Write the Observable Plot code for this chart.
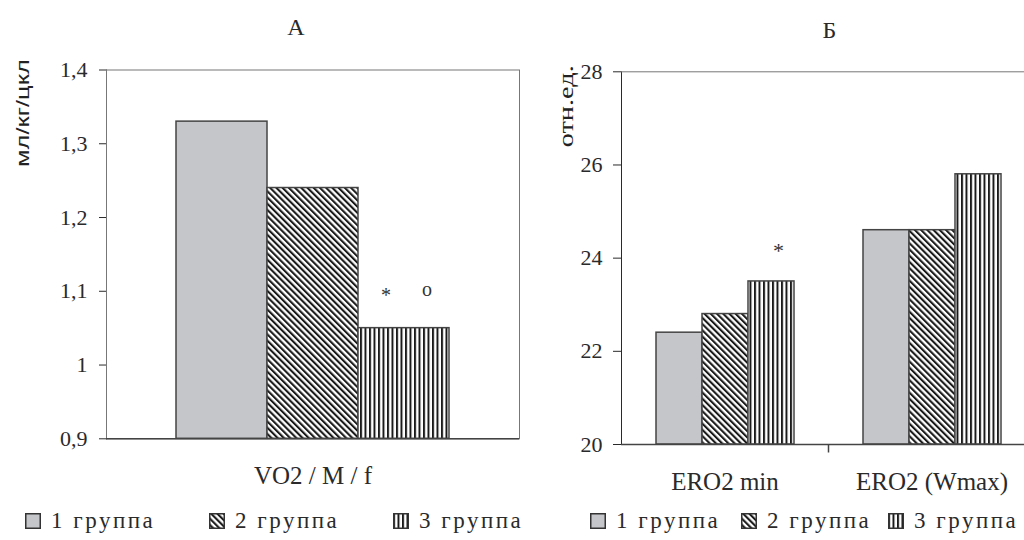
<!DOCTYPE html>
<html>
<head>
<meta charset="utf-8">
<script src="https://cdn.jsdelivr.net/npm/d3@7"></script>
<script src="https://cdn.jsdelivr.net/npm/@observablehq/plot@0.6"></script>
<style>
html, body { margin: 0; padding: 0; background: #fff; overflow: hidden; }
#root { position: relative; width: 1024px; height: 540px; overflow: hidden; font-family: "Liberation Serif", "Times New Roman", serif; color: #2a2a2a; background: #fff; }
.panel { position: absolute; top: 0; }
.panel svg { max-width: none !important; }
.legend { position: absolute; top: 506px; height: 30px; left: 0; width: 1024px; }
.item { position: absolute; top: 0; display: flex; align-items: center; font-size: 23px; letter-spacing: 2.5px; white-space: nowrap; line-height: 30px; }
.item svg { margin-right: 10px; }
</style>
</head>
<body>
<svg width="0" height="0" style="position:absolute">
  <defs>
    <pattern id="diag" patternUnits="userSpaceOnUse" width="4.4" height="4.4" patternTransform="rotate(-45)">
      <rect width="4.4" height="4.4" fill="#fff"></rect>
      <rect width="2.1" height="4.4" fill="#1a1a1a"></rect>
    </pattern>
    <pattern id="vert" patternUnits="userSpaceOnUse" width="4.5" height="10">
      <rect width="4.5" height="10" fill="#fff"></rect>
      <rect width="2" height="10" fill="#1a1a1a"></rect>
    </pattern>
  </defs>
</svg>
<div id="root"></div>
<script>
// ---------- data ----------
const groups = ["1 группа", "2 группа", "3 группа"];
const groupFills = ["#c5c6ca", "url(#diag)", "url(#vert)"];

// Panel А
const titleA = "А";
const yLabelA = "мл/кг/цкл";
const categoriesA = ["VO2 / M / f"];
const seriesA1 = [1.33];
const seriesA2 = [1.24];
const seriesA3 = [1.05];
const yTicksA = [0.9, 1, 1.1, 1.2, 1.3, 1.4];
const notesA = [
  {category: "VO2 / M / f", group: "3 группа", value: 1.1, text: "*"},
  {category: "VO2 / M / f", group: "3 группа", value: 1.1, text: "o"}
];

// Panel Б
const titleB = "Б";
const yLabelB = "отн.ед.";
const categoriesB = ["ERO2 min", "ERO2 (Wmax)"];
const seriesB1 = [22.4, 24.6];
const seriesB2 = [22.8, 24.6];
const seriesB3 = [23.5, 25.8];
const yTicksB = [20, 22, 24, 26, 28];
const notesB = [
  {category: "ERO2 min", group: "3 группа", value: 24.23, text: "*"}
];

// ---------- build tables ----------
function table(cats, series) {
  const rows = [];
  cats.forEach((c, i) => groups.forEach((g, j) => rows.push({category: c, group: g, value: series[j][i]})));
  return rows;
}
const dataA = table(categoriesA, [seriesA1, seriesA2, seriesA3]);
const dataB = table(categoriesB, [seriesB1, seriesB2, seriesB3]);
const fillOf = d => groupFills[groups.indexOf(d.group)];
const fmt = d => String(d).replace(".", ",");

const tickSymbol = {draw(ctx) { ctx.moveTo(0, 0); ctx.lineTo(0, 8); }};

const baseStyle = {fontFamily: "'Liberation Serif', 'Times New Roman', serif", fontSize: "22px", color: "#2a2a2a", background: "transparent", overflow: "visible", maxWidth: "none"};

// ---------- Panel А ----------
const plotA = Plot.plot({
  width: 520, height: 490,
  marginLeft: 106, marginRight: 1, marginTop: 69.5, marginBottom: 51.7,
  style: baseStyle,
  fx: {domain: categoriesA, padding: 0, axis: null},
  x: {domain: groups, paddingInner: 0, paddingOuter: 0.75, axis: null},
  y: {domain: [yTicksA[0], yTicksA[yTicksA.length - 1]], ticks: yTicksA, tickFormat: fmt, tickSize: 7, tickPadding: 12, label: null, line: true},
  color: {type: "identity"},
  marks: [
    Plot.frame({stroke: "#777", strokeWidth: 1}),
    Plot.barY(dataA, {fx: "category", x: "group", y1: yTicksA[0], y2: "value", fill: fillOf, stroke: "#444", strokeWidth: 1.5}),
    Plot.ruleY([yTicksA[0]], {stroke: "#444", strokeWidth: 1.6}),
    Plot.axisFx({anchor: "bottom", label: null, tickSize: 0, tickPadding: 27, fontSize: 25}),
    Plot.text(notesA.filter(d => d.text === "*"), {fx: "category", x: "group", y: "value", text: "text", dx: -18, dy: 4, fontSize: 20, fill: "#333"}),
    Plot.text(notesA.filter(d => d.text === "o"), {fx: "category", x: "group", y: "value", text: "text", dx: 23, dy: -2, fontSize: 20, fill: "#333"}),
    Plot.text([titleA], {frameAnchor: "top", textAnchor: "middle", dx: -17, dy: -52, fontSize: 24, fill: "#2a2a2a", facetAnchor: "left"}),
    Plot.text([yLabelA], {frameAnchor: "top-left", dx: -83.5, dy: 43, rotate: -90, textAnchor: "middle", lineAnchor: "middle", fontSize: 18, fontFamily: "'Liberation Sans', Arial, sans-serif", fill: "#222", facetAnchor: "left"})
  ]
});

// ---------- Panel Б ----------
const plotB = Plot.plot({
  width: 521, height: 490,
  marginLeft: 101, marginRight: 5.4, marginTop: 71.3, marginBottom: 46,
  style: baseStyle,
  fx: {domain: categoriesB, padding: 0, axis: null},
  x: {domain: groups, paddingInner: 0, paddingOuter: 0.72, axis: null},
  y: {domain: [yTicksB[0], yTicksB[yTicksB.length - 1]], ticks: yTicksB, tickSize: 8, tickPadding: 11, label: null, line: true},
  color: {type: "identity"},
  marks: [
    Plot.ruleY([yTicksB[yTicksB.length - 1]], {stroke: "#777", strokeWidth: 1}),
    Plot.barY(dataB, {fx: "category", x: "group", y1: yTicksB[0], y2: "value", fill: fillOf, stroke: "#444", strokeWidth: 1.5}),
    Plot.ruleY([yTicksB[0]], {stroke: "#444", strokeWidth: 1.6}),
    Plot.dot([0], {frameAnchor: "bottom-right", symbol: tickSymbol, stroke: "#444", strokeWidth: 1.5, fill: "none", facetAnchor: "left"}),
    Plot.axisFx({anchor: "bottom", label: null, tickSize: 0, tickPadding: 28, fontSize: 25}),
    Plot.text(notesB, {fx: "category", x: "group", y: "value", text: "text", dx: 7, dy: 4, fontSize: 22, fill: "#333"}),
    Plot.text([titleB], {frameAnchor: "top-right", textAnchor: "middle", dx: 1, dy: -50.6, fontSize: 24, fill: "#2a2a2a", facetAnchor: "left"}),
    Plot.text([yLabelB], {frameAnchor: "top-left", dx: -55, dy: 34.5, rotate: -90, textAnchor: "middle", lineAnchor: "middle", fontSize: 20, fill: "#222", facetAnchor: "left"})
  ]
});

// stretch the rotated axis titles to the reference lengths
function stretch(svg, label, len) {
  svg.querySelectorAll("text").forEach(t => {
    if (t.textContent === label) { t.setAttribute("textLength", len); t.setAttribute("lengthAdjust", "spacingAndGlyphs"); }
  });
}
stretch(plotA, yLabelA, 108);
stretch(plotB, yLabelB, 82);

const root = document.getElementById("root");
const pA = document.createElement("div"); pA.className = "panel"; pA.style.left = "0px"; pA.style.width = "520px"; pA.appendChild(plotA); root.appendChild(pA);
const pB = document.createElement("div"); pB.className = "panel"; pB.style.left = "520px"; pB.style.width = "521px"; pB.appendChild(plotB); root.appendChild(pB);

// ---------- legends ----------
function legend(positions) {
  const box = document.createElement("div");
  box.className = "legend";
  groups.forEach((g, i) => {
    const it = document.createElement("div");
    it.className = "item";
    it.style.left = positions[i] + "px";
    it.innerHTML = `<svg width="16" height="16"><rect x="0.75" y="0.75" width="14.5" height="14.5" fill="${groupFills[i]}" stroke="#333" stroke-width="1.5"></rect></svg><span>${g}</span>`;
    box.appendChild(it);
  });
  root.appendChild(box);
}
legend([25, 209, 393]);
legend([590, 741, 888]);
</script>
</body>
</html>
